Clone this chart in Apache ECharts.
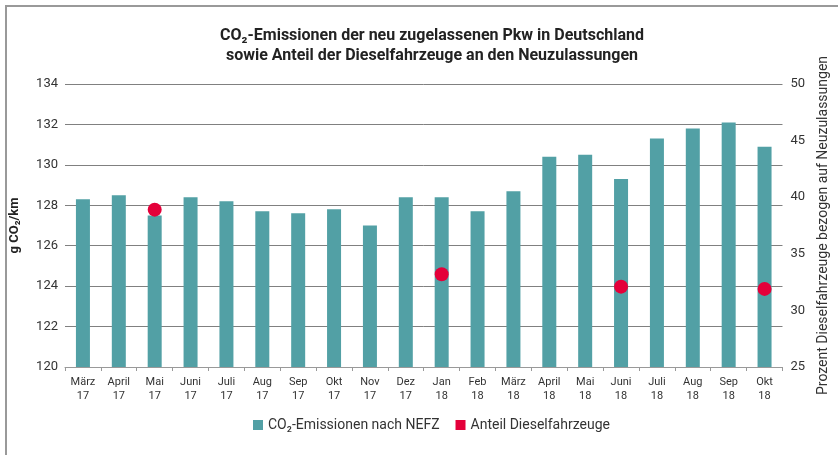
<!DOCTYPE html>
<html>
<head>
<meta charset="utf-8">
<script src="https://cdn.jsdelivr.net/npm/echarts@6/dist/echarts.min.js"></script>
<style>
  html, body { margin: 0; padding: 0; background: #fff; }
  #chart { width: 838px; height: 455px; }
</style>
</head>
<body>
<div id="chart"></div>
<script>
// Monthly registrations, March 2017 to October 2018
const months = ['März\n17', 'April\n17', 'Mai\n17', 'Juni\n17', 'Juli\n17', 'Aug\n17', 'Sep\n17', 'Okt\n17', 'Nov\n17', 'Dez\n17',
                'Jan\n18', 'Feb\n18', 'März\n18', 'April\n18', 'Mai\n18', 'Juni\n18', 'Juli\n18', 'Aug\n18', 'Sep\n18', 'Okt\n18'];

// Average CO2 emissions (g/km, NEDC)
const co2Values = [128.3, 128.5, 127.5, 128.4, 128.2, 127.7, 127.6, 127.8, 127.0, 128.4,
                   128.4, 127.7, 128.7, 130.4, 130.5, 129.3, 131.3, 131.8, 132.1, 130.9];

// Diesel share of new registrations (%), only reported for some months
const dieselShare = [null, null, 38.9, null, null, null, null, null, null, null,
                     33.2, null, null, null, null, 32.1, null, null, null, 31.9];

const leftTicks = { min: 120, max: 134, interval: 2 };
const rightTicks = { min: 25, max: 50, interval: 5 };

const teal = '#52a0a5';
const red = '#e4003a';
const font = 'Roboto, "Noto Sans", sans-serif';

const chart = echarts.init(document.getElementById('chart'), null, { renderer: 'canvas' });

chart.setOption({
  animation: false,
  textStyle: { fontFamily: font },
  title: {
    text: 'CO₂-Emissionen der neu zugelassenen Pkw in Deutschland\nsowie Anteil der Dieselfahrzeuge an den Neuzulassungen',
    left: 427,
    top: 21,
    textAlign: 'center',
    textStyle: { fontFamily: font, fontSize: 16, fontWeight: 'bold', color: '#222', lineHeight: 20, align: 'center' }
  },
  graphic: [{
    type: 'polyline',
    shape: { points: [[6, 455], [6, 6], [838, 6]] },
    style: { stroke: '#999', lineWidth: 2, fill: null },
    silent: true
  }],
  legend: {
    bottom: 18,
    left: 248,
    icon: 'rect',
    itemWidth: 10,
    itemHeight: 10,
    itemGap: 16,
    textStyle: { fontFamily: font, fontSize: 14, color: '#333' },
    data: [
      { name: 'CO₂-Emissionen nach NEFZ', icon: 'rect' },
      { name: 'Anteil Dieselfahrzeuge', icon: 'rect', itemStyle: { color: red, opacity: 1 } }
    ]
  },
  grid: { left: 64, right: 46, top: 84, bottom: 88 },
  xAxis: {
    type: 'category',
    data: months,
    boundaryGap: true,
    axisLine: { lineStyle: { color: '#999', width: 1 } },
    axisTick: { show: true, length: 4, lineStyle: { color: '#999' } },
    axisLabel: { fontFamily: font, fontSize: 11, color: '#333', lineHeight: 14, margin: 8, interval: 0 }
  },
  yAxis: [{
    type: 'value',
    min: leftTicks.min, max: leftTicks.max, interval: leftTicks.interval,
    name: 'g CO₂/km',
    nameLocation: 'middle',
    nameRotate: 90,
    nameGap: 44,
    nameTextStyle: { fontFamily: font, fontSize: 13, fontWeight: 'bold', color: '#222' },
    axisLine: { show: false },
    axisTick: { show: false },
    axisLabel: { fontFamily: font, fontSize: 13, color: '#333', margin: 7 },
    splitLine: { lineStyle: { color: '#808080', width: 1 } }
  }, {
    type: 'value',
    position: 'right',
    min: rightTicks.min, max: rightTicks.max, interval: rightTicks.interval,
    name: 'Prozent Dieselfahrzeuge bezogen auf Neuzulassungen',
    nameLocation: 'middle',
    nameRotate: 90,
    nameGap: 33,
    nameTextStyle: { fontFamily: font, fontSize: 14, color: '#333' },
    axisLine: { show: false },
    axisTick: { show: false },
    axisLabel: { fontFamily: font, fontSize: 13, color: '#333', margin: 8 },
    splitLine: { show: false }
  }],
  series: [{
    name: 'CO₂-Emissionen nach NEFZ',
    type: 'bar',
    yAxisIndex: 0,
    data: co2Values,
    barWidth: 14,
    itemStyle: { color: teal }
  }, {
    name: 'Anteil Dieselfahrzeuge',
    type: 'scatter',
    yAxisIndex: 1,
    data: dieselShare,
    symbol: 'circle',
    symbolSize: 14,
    itemStyle: { color: red, opacity: 1 }
  }]
});
</script>
</body>
</html>
